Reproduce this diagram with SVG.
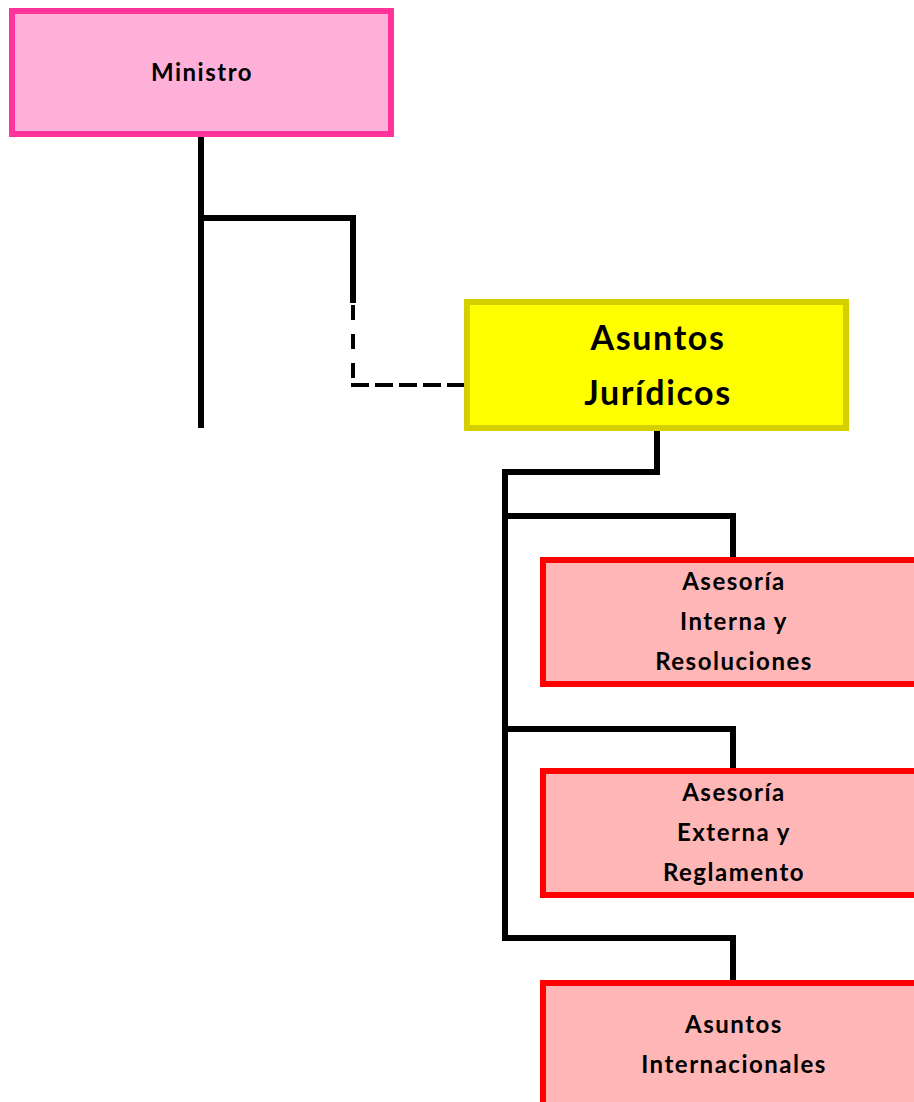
<svg xmlns="http://www.w3.org/2000/svg" width="914" height="1102" viewBox="0 0 914 1102">
<style>
.t{font-family:Lato,"Open Sans",sans-serif;font-weight:bold;fill:#000;text-anchor:middle}
.s{font-size:24px;letter-spacing:1.5px}
.b{font-size:34px;letter-spacing:1.6px}
.c{fill:none;stroke:#000;stroke-width:6}
.dv{fill:none;stroke:#000;stroke-width:4;stroke-dasharray:15 14}
.dh{fill:none;stroke:#000;stroke-width:4;stroke-dasharray:18 6}
.red{fill:#FFB6B6;stroke:#FF0000;stroke-width:6}
</style>
<rect width="914" height="1102" fill="#fff"/>
<g id="connectors">
<path class="c" d="M201 132V428"/>
<path class="c" d="M201 218H353V303"/>
<path class="dv" d="M353 305V387"/>
<path class="dh" d="M351 385H466"/>
<path class="c" d="M657 428V472H505V941"/>
<path class="c" d="M505 516H733V560"/>
<path class="c" d="M505 729H733V771"/>
<path class="c" d="M505 938H733V983"/>
</g>
<g id="ministro">
<rect x="12" y="11" width="379" height="123" fill="#FFB0D8" stroke="#FF3399" stroke-width="6"/>
<text class="t s" x="202" y="81">Ministro</text>
</g>
<g id="asuntos-juridicos">
<rect x="467" y="302" width="379" height="126" fill="#FFFF00" stroke="#D4D000" stroke-width="6"/>
<text class="t b" x="658" y="350">Asuntos</text>
<text class="t b" x="658" y="405">Jurídicos</text>
</g>
<g id="asesoria-interna">
<rect class="red" x="543" y="560" width="390" height="124"/>
<text class="t s" x="734" y="590">Asesoría</text>
<text class="t s" x="734" y="630">Interna y</text>
<text class="t s" x="734" y="670">Resoluciones</text>
</g>
<g id="asesoria-externa">
<rect class="red" x="543" y="771" width="390" height="124"/>
<text class="t s" x="734" y="801">Asesoría</text>
<text class="t s" x="734" y="841">Externa y</text>
<text class="t s" x="734" y="881">Reglamento</text>
</g>
<g id="asuntos-internacionales">
<rect class="red" x="543" y="983" width="390" height="140"/>
<text class="t s" x="734" y="1033">Asuntos</text>
<text class="t s" x="734" y="1073">Internacionales</text>
</g>
</svg>
